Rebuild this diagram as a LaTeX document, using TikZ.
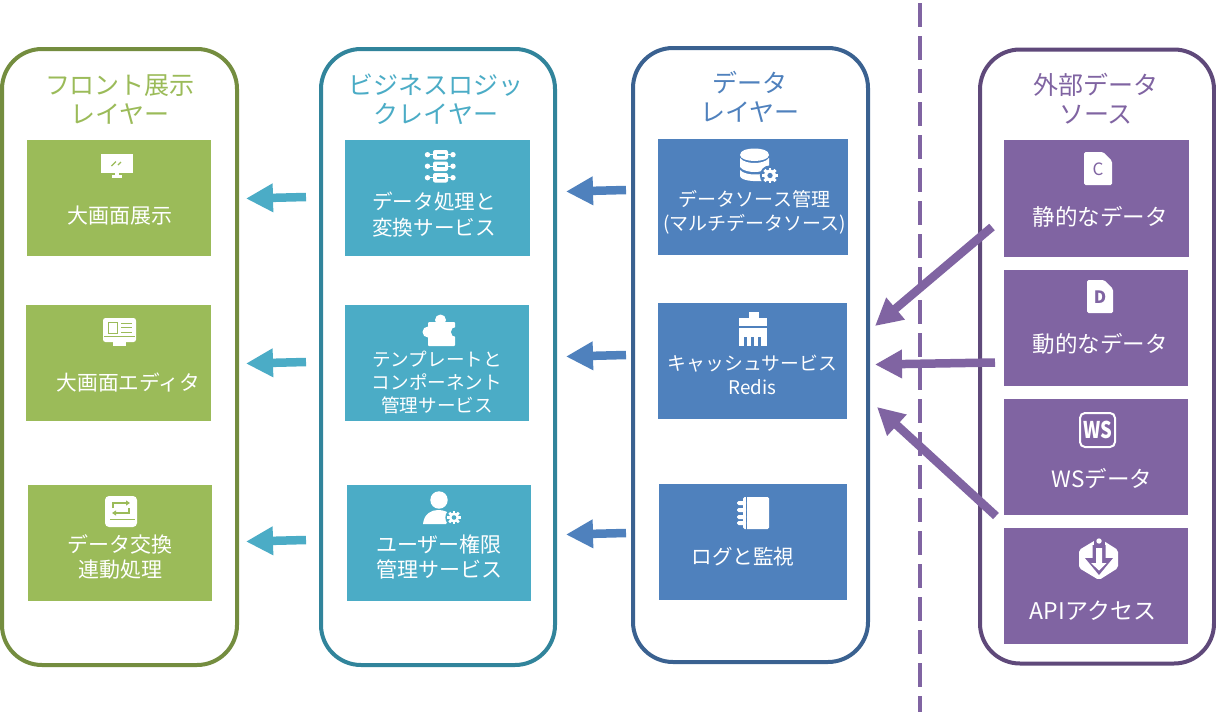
\documentclass[tikz,border=0pt]{standalone}
\usepackage{fontspec}
\setmainfont{Noto Sans CJK JP}
\usetikzlibrary{arrows.meta}
\definecolor{gfill}{HTML}{9BBB59}
\definecolor{gline}{HTML}{748D3F}
\definecolor{tfill}{HTML}{4BACC6}
\definecolor{tline}{HTML}{31849B}
\definecolor{bfill}{HTML}{4F81BD}
\definecolor{bline}{HTML}{3A6190}
\definecolor{pfill}{HTML}{8064A2}
\definecolor{pline}{HTML}{5F497A}
\newcommand{\fsz}[2]{\fontsize{#1pt}{#2pt}\selectfont}
\newcommand{\gearicon}[4]{% x y r hole colour
  \fill[#4] (#1,#2) circle ({#3*1.45});
  \foreach \a in {0,45,...,315}{\draw[white,line width=#3*0.42pt] (#1,#2) -- ++(\a:{#3*1.12});}
  \fill[white] (#1,#2) circle ({#3*0.85});
  \fill[#4] (#1,#2) circle ({#3*0.38});
}
\tikzset{
  x=1pt,y=-1pt,
  panel/.style={draw=#1,line width=4pt,rounded corners=40pt,fill=white,inner sep=0pt},
  tile/.style={fill=#1,inner sep=0pt,outer sep=0pt},
  tiletext/.style n args={2}{text=white,align=center,inner sep=0pt,font=\fsz{#1}{#2}},
  headtext/.style={text=#1,align=center,inner sep=0pt,font=\fsz{25}{29}},
  blockarrow/.style={draw=#1,line width=8.5pt,-{Triangle[length=27pt,width=27pt,fill=#1]}},
}
\begin{document}
\begin{tikzpicture}
\useasboundingbox (0,0) rectangle (1216,723);
\fill[white] (0,0) rectangle (1216,723);
% divider
\coordinate (divtop) at (920,3);
\coordinate (divbot) at (920,712);
\draw[pfill,line width=4pt,dash pattern=on 24pt off 9pt] (divtop) -- (divbot);
% panels
\node[panel=gline,minimum width=235pt,minimum height=616pt] (pf) at (119.5,357) {};
\node[panel=tline,minimum width=234pt,minimum height=616pt] (pt) at (438,357) {};
\node[panel=bline,minimum width=235pt,minimum height=614pt] (pb) at (750.5,355) {};
\node[panel=pline,minimum width=234pt,minimum height=614pt] (pp) at (1097,356.5) {};
\node[headtext=gfill] (hf) at (120,99.5) {フロント展示\\レイヤー};
\node[headtext=tfill] (ht) at (436,99.5) {ビジネスロジッ\\クレイヤー};
\node[headtext=bfill] (hb) at (750,96.5) {データ\\レイヤー};
\node[headtext=pfill] (hp) at (1096,98.5) {外部データ\\ソース};
% tiles
\node[tile=gfill,minimum width=184pt,minimum height=116pt] (g1) at (119,198) {};
\node[tile=gfill,minimum width=185pt,minimum height=116pt] (g2) at (118.5,363) {};
\node[tile=gfill,minimum width=184pt,minimum height=116pt] (g3) at (120,543) {};
\node[tile=tfill,minimum width=185pt,minimum height=116pt] (t1) at (437.5,198) {};
\node[tile=tfill,minimum width=184pt,minimum height=116pt] (t2) at (437,363) {};
\node[tile=tfill,minimum width=184pt,minimum height=116pt] (t3) at (439,543) {};
\node[tile=bfill,minimum width=190pt,minimum height=116pt] (b1) at (753,197) {};
\node[tile=bfill,minimum width=189pt,minimum height=116pt] (b2) at (752.5,361) {};
\node[tile=bfill,minimum width=188pt,minimum height=116pt] (b3) at (753,542) {};
\node[tile=pfill,minimum width=185pt,minimum height=117pt] (p1) at (1096.5,198.5) {};
\node[tile=pfill,minimum width=184pt,minimum height=116pt] (p2) at (1096,328) {};
\node[tile=pfill,minimum width=184pt,minimum height=116pt] (p3) at (1096,457) {};
\node[tile=pfill,minimum width=184pt,minimum height=116pt] (p4) at (1096,586) {};
% tile texts
\node[tiletext={21}{25}] (g1t) at (120,216) {大画面展示};
\node[tiletext={20.7}{25}] (g2t) at (128.5,383) {大画面エディタ};
\node[tiletext={21}{25}] (g3t) at (120,557) {データ交換\\連動処理};
\node[tiletext={20.6}{26}] (t1t) at (434,215) {データ処理と\\変換サービス};
\node[tiletext={18.6}{23}] (t2t) at (437,383) {テンプレートと\\コンポーネント\\管理サービス};
\node[tiletext={21}{25}] (t3t) at (439,557) {ユーザー権限\\管理サービス};
\node[tiletext={19}{24}] (b1t) at (754.5,212) {データソース管理\\(マルチデータソース)};
\node[tiletext={18.8}{24}] (b2t) at (752.5,375) {キャッシュサービス\\Redis};
\node[tiletext={20.6}{25}] (b3t) at (743,557) {ログと監視};
\node[tiletext={22.5}{26}] (p1t) at (1100,217) {静的なデータ};
\node[tiletext={22.5}{26}] (p2t) at (1100,344) {動的なデータ};
\node[tiletext={22.5}{26}] (p3t) at (1102,479) {WSデータ};
\node[tiletext={23}{26}] (p4t) at (1093,611) {APIアクセス};
% icon: big-screen display
\fill[white] (101,154) rectangle (133,173);
\fill[white] (115,173) rectangle (119,176);
\fill[white] (112,175) rectangle (122,178);
\draw[gfill,line width=1.3pt] (111.5,166) -- (116,161.5) (118,165) -- (121,162);
% icon: editor
\fill[white,rounded corners=2.5pt] (103,318) rectangle (136,342);
\fill[white] (113,342) rectangle (126,346);
\draw[gfill,line width=1pt] (108,322) rectangle (117,333);
\draw[gfill,line width=1pt] (104,336.5) -- (135,336.5);
\draw[gfill,line width=1pt] (121,323) -- (132,323) (121,327.5) -- (132,327.5) (121,332) -- (132,332);
% icon: exchange
\fill[white,rounded corners=4pt] (105,496) rectangle (137,527);
\draw[gfill,line width=1.4pt,-{Triangle[length=4pt,width=5pt]}] (113,508) -- (113,503) -- (130,503);
\draw[gfill,line width=1.4pt,-{Triangle[length=4pt,width=5pt]}] (129,508) -- (129,513) -- (112,513);
\draw[gfill,line width=1.4pt] (110,519.5) -- (135,519.5);
% icon: servers
\foreach \yy in {150,161.5,173}{
  \fill[white,rounded corners=2pt] (433,\yy) rectangle (448,\yy+9.5);
  \fill[tfill] (436.5,\yy+3.7) rectangle (444.5,\yy+5.5);
  \fill[white] (427.5,\yy+4.7) circle (2.7);
  \fill[white] (453,\yy+4.7) circle (2.7);
  \fill[white] (427,\yy+4) rectangle (433,\yy+5.3);
  \fill[white] (448,\yy+4) rectangle (453,\yy+5.3);
}
% icon: puzzle piece
\fill[white,rounded corners=1pt] (428,322) rectangle (455,346);
\fill[white] (440.5,320) circle (5.5);
\fill[white] (428,332) circle (5.5);
\fill[tfill] (456,332) circle (5);
% icon: user and gear
\fill[white] (439,500) circle (8.7);
\fill[white] (423,524) .. controls (424,514) and (431,510) .. (438,510) .. controls (444,510) and (448,512) .. (451,515) -- (446,524) -- cycle;
\gearicon{454}{517.5}{6}{tfill}
% icon: database and gear
\fill[white] (740,155) .. controls (740,150) and (748,148.5) .. (754.5,148.5) .. controls (761,148.5) and (769,150) .. (769,155) .. controls (769,159) and (761,161) .. (754.5,161) .. controls (748,161) and (740,159) .. (740,155) -- cycle;
\fill[white] (740,158) .. controls (743,162) and (750,163) .. (754.5,163) .. controls (759,163) and (766,162) .. (769,158) -- (769,167) .. controls (766,171) and (759,172) .. (754.5,172) .. controls (750,172) and (743,171) .. (740,167) -- cycle;
\fill[white] (740,170) .. controls (743,173.5) and (750,174.5) .. (754.5,174.5) .. controls (759,174.5) and (763,174) .. (765,173.5) -- (762,181) .. controls (755,181.5) and (741,181) .. (740,176) -- cycle;
\gearicon{770}{175.5}{7}{bfill}
% icon: brush
\fill[white] (749,312) rectangle (759,318);
\fill[white] (739,318) rectangle (767,326);
\fill[white] (739,328) rectangle (767,346);
\foreach \xx in {745.5,752.5,759.5}{\fill[bfill] (\xx-1.5,337) rectangle (\xx+1.5,346);}
% icon: notebook
\fill[white,rounded corners=1.5pt] (743,497) rectangle (769,529);
\draw[bfill,line width=1pt] (746,496) -- (746,530);
\foreach \yy in {503,510,517,523}{\fill[white,rounded corners=1.5pt] (737,\yy-2) rectangle (746,\yy+2);}
% icons: documents
\fill[white,rounded corners=1.5pt] (1084,152) -- (1103,152) -- (1112,161) -- (1112,185) -- (1084,185) -- cycle;
\node[text=pfill,inner sep=0pt,font=\fsz{17}{17}] (docc) at (1098,169) {C};
\fill[white,rounded corners=1.5pt] (1087,280) -- (1104,280) -- (1113,289) -- (1113,313) -- (1087,313) -- cycle;
\node[text=pfill,inner sep=0pt,font=\fsz{17}{17}\bfseries] (docd) at (1100,297) {D};
% icon: WS
\draw[white,line width=2pt,rounded corners=5pt] (1080,413) rectangle (1115,447);
\node[text=white,inner sep=0pt,xscale=0.8,font=\fsz{23}{23}\bfseries] (wsi) at (1098,430) {WS};
% icon: API hexagon
\fill[white,rounded corners=2pt] (1099,538) -- (1118,550) -- (1118,568) -- (1099,580) -- (1079,568) -- (1079,550) -- cycle;
\fill[pfill] (1092.5,545) -- (1105.5,545) -- (1105.5,558) -- (1113,558) -- (1099,575) -- (1085,558) -- (1092.5,558) -- cycle;
\fill[white] (1096,548) -- (1102,548) -- (1102,563) -- (1106.5,563) -- (1099,570.5) -- (1091,563) -- (1096,563) -- cycle;
\fill[pfill] (1093.5,538) rectangle (1104.5,544.5);
\fill[white] (1099,541) circle (2.7);
% arrows
\coordinate (a1s) at (306,197);   \coordinate (a1e) at (246,198.5);
\coordinate (a2s) at (306,362);   \coordinate (a2e) at (246,363.5);
\coordinate (a3s) at (306,540);   \coordinate (a3e) at (246,541.5);
\coordinate (a4s) at (626,190);   \coordinate (a4e) at (566,191.5);
\coordinate (a5s) at (626,355);   \coordinate (a5e) at (566,356.5);
\coordinate (a6s) at (626,533);   \coordinate (a6e) at (566,534.5);
\coordinate (a7s) at (992,227);   \coordinate (a7e) at (875,326);
\coordinate (a8s) at (995,362.5); \coordinate (a8e) at (875,364.5);
\coordinate (a9s) at (996,516);   \coordinate (a9e) at (877,407);
\draw[blockarrow=tfill] (a1s) -- (a1e);
\draw[blockarrow=tfill] (a2s) -- (a2e);
\draw[blockarrow=tfill] (a3s) -- (a3e);
\draw[blockarrow=bfill] (a4s) -- (a4e);
\draw[blockarrow=bfill] (a5s) -- (a5e);
\draw[blockarrow=bfill] (a6s) -- (a6e);
\draw[blockarrow=pfill] (a7s) -- (a7e);
\draw[blockarrow=pfill] (a8s) -- (a8e);
\draw[blockarrow=pfill] (a9s) -- (a9e);
\end{tikzpicture}
\end{document}
